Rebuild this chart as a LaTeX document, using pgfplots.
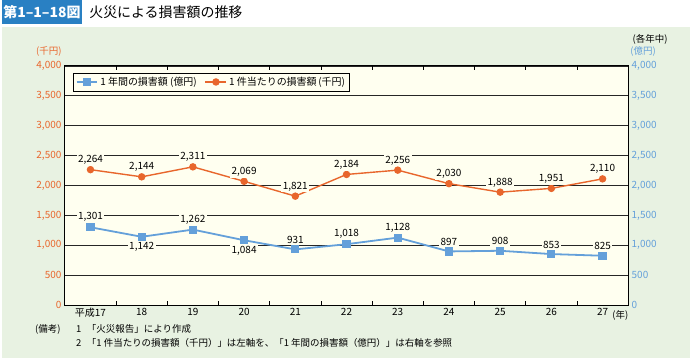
\documentclass[border=0pt]{standalone}
\usepackage{pgfplots}
\pgfplotsset{compat=1.18}
\usepackage{fontspec}
\setmainfont{Noto Sans CJK JP}
\definecolor{bggreen}{RGB}{232,242,226}
\definecolor{cream}{RGB}{255,255,240}
\definecolor{myorange}{RGB}{232,102,44}
\definecolor{myblue}{RGB}{100,160,218}
\definecolor{titleblue}{RGB}{41,128,195}
\newcommand{\fs}{\fontsize{9.5bp}{11bp}\selectfont}
\begin{document}
\begin{tikzpicture}
\fill[bggreen] (0,0) rectangle (690bp,-359bp);
\fill[white] (0,0) rectangle (690bp,-27bp);
\fill[titleblue] (0,0) rectangle (80bp,-24bp);
\node[text=white,font=\fontsize{14bp}{16bp}\selectfont\bfseries] at (40bp,-12bp) {第1–1–18図};
\node[anchor=west,font=\fontsize{14bp}{16bp}\selectfont] at (84bp,-12bp) {火災による損害額の推移};

\begin{axis}[
  at={(63bp,-306bp)}, anchor=south west, scale only axis,
  width=565bp, height=240bp,
  xmin=-0.5, xmax=10.5, ymin=0, ymax=4000,
  xtick={0,...,10},
  xticklabels={平成17,18,19,20,21,22,23,24,25,26,27},
  minor xtick={0.5,1.5,...,9.5},
  major tick length=0pt, minor tick length=4bp,
  minor x tick style={black, line width=0.7bp},
  ytick={0,500,...,4000},
  ymajorgrids, major grid style={black!85, line width=0.6bp},
  yticklabel style={text=myorange},
  ticklabel style={font=\fontsize{10bp}{12bp}\selectfont},
  axis background/.style={fill=cream},
  axis line style={black, line width=0.8bp},
  legend style={at={(0.015,0.971)}, anchor=north west, draw=black, fill=cream,
    font=\fontsize{10bp}{12bp}\selectfont, line width=0.6bp, inner sep=2bp},
  legend columns=2,
  legend cell align=left,
  /tikz/every even column/.append style={column sep=6bp},
  legend image code/.code={\draw[mark repeat=2,mark phase=2] plot coordinates {(0bp,0bp)(10.5bp,0bp)(21bp,0bp)};},
  /pgf/number format/1000 sep={,},
  /pgf/number format/assume math mode=true,
]
\addplot[myblue, line width=1.8bp, mark=square*, mark size=3.2bp, mark options={solid}]
  coordinates {(0,1301)(1,1142)(2,1262)(3,1084)(4,931)(5,1018)(6,1128)(7,897)(8,908)(9,853)(10,825)};
\addlegendentry{1 年間の損害額 (億円)}
\addplot[myorange, line width=1.4bp, mark=*, mark size=3bp,
  nodes near coords,
  every node near coord/.append style={anchor=south, yshift=3bp, fill=cream, inner sep=1.5bp, text=black, font=\fontsize{10bp}{12bp}\selectfont}]
  coordinates {(0,2264)(1,2144)(2,2311)(3,2069)(4,1821)(5,2184)(6,2256)(7,2030)(8,1888)(9,1951)(10,2110)};
\addlegendentry{1 件当たりの損害額\,(千円)}
\addplot[draw=none, forget plot, nodes near coords,
  every node near coord/.append style={anchor=south, yshift=4bp, fill=cream, inner sep=1.5bp, text=black, font=\fontsize{10bp}{12bp}\selectfont}]
  coordinates {(0,1301)(2,1262)(4,931)(5,1018)(6,1128)(7,897)(8,908)(9,853)(10,825)};
\addplot[draw=none, forget plot, nodes near coords,
  every node near coord/.append style={anchor=north, yshift=-4bp, fill=cream, inner sep=1.5bp, text=black, font=\fontsize{10bp}{12bp}\selectfont}]
  coordinates {(1,1142)(3,1084)};
\end{axis}

\begin{axis}[
  at={(63bp,-306bp)}, anchor=south west, scale only axis,
  width=565bp, height=240bp,
  xmin=-0.5, xmax=10.5, ymin=0, ymax=4000,
  axis x line=none, axis y line*=right,
  ytick={0,500,...,4000}, major tick length=0pt,
  yticklabel style={text=myblue},
  ticklabel style={font=\fontsize{10bp}{12bp}\selectfont},
  axis line style={black, line width=0.8bp},
  /pgf/number format/1000 sep={,},
  /pgf/number format/assume math mode=true,
]
\addplot[draw=none] coordinates {(0,0)};
\end{axis}

\node[text=myorange, font=\fs] at (47bp,-52bp) {(千円)};
\node[font=\fs] at (650bp,-40bp) {(各年中)};
\node[text=myblue, font=\fs] at (643bp,-52bp) {(億円)};
\node[anchor=west, inner sep=0pt, font=\fs] at (612bp,-316bp) {(年)};
\node[anchor=west, inner sep=0pt, font=\fs] at (33bp,-330bp) {(備考)};
\node[anchor=west, inner sep=0pt, font=\fs] at (74bp,-330bp) {1};
\node[anchor=west, inner sep=0pt, font=\fs] at (85bp,-330bp) {「火災報告」により作成};
\node[anchor=west, inner sep=0pt, font=\fs] at (74bp,-344bp) {2};
\node[anchor=west, inner sep=0pt, font=\fs] at (85bp,-344bp) {「1 件当たりの損害額（千円）」は左軸を、「1 年間の損害額（億円）」は右軸を参照};
\end{tikzpicture}
\end{document}
